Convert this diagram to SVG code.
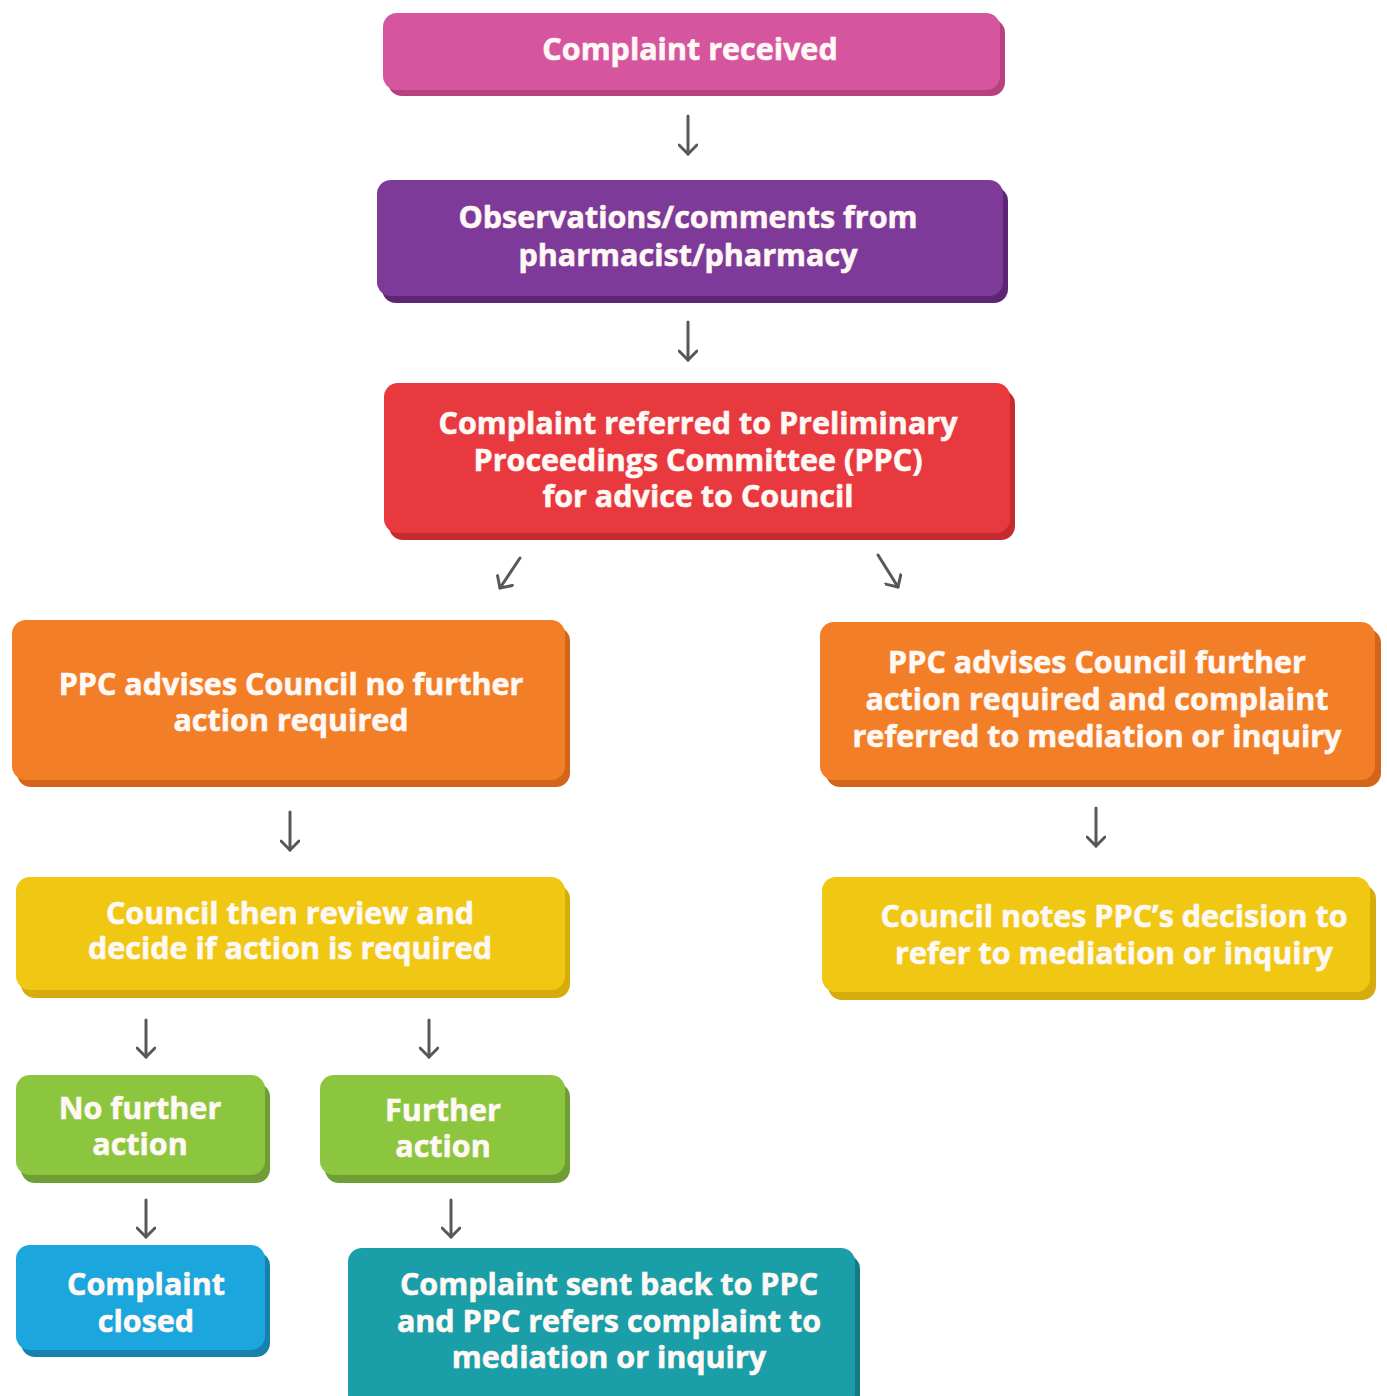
<svg xmlns="http://www.w3.org/2000/svg" width="1387" height="1396" viewBox="0 0 1387 1396">
<defs>
<marker id="ah" viewBox="0 0 20 20" refX="16" refY="10" markerWidth="20" markerHeight="20" markerUnits="userSpaceOnUse" orient="auto">
<path d="M7,1 L16,10 L7,19" fill="none" stroke="#585858" stroke-width="3" stroke-linecap="round" stroke-linejoin="round"/>
</marker>
<style>
.t{font-family:"Open Sans","Noto Sans","Liberation Sans",sans-serif;font-weight:bold;font-size:30.5px;fill:#fff8f4;stroke:#fff8f4;stroke-width:0.6;text-anchor:middle;dominant-baseline:central}
.c line{stroke:#585858;stroke-width:3;stroke-linecap:round;marker-end:url(#ah)}
</style>
</defs>
<rect width="1387" height="1396" fill="#ffffff"/>

<g id="n1">
<rect x="388" y="19" width="617" height="77" rx="14" fill="#b8407f"/>
<rect x="383" y="13" width="617" height="77" rx="14" fill="#d6559f"/>
<text class="t" x="690" y="48">Complaint received</text>
</g>

<g id="n2">
<rect x="382" y="187" width="626" height="116" rx="14" fill="#5c2675"/>
<rect x="377" y="180" width="626" height="116" rx="14" fill="#7e3a99"/>
<text class="t" x="688" y="216">Observations/comments from</text>
<text class="t" x="688" y="254">pharmacist/pharmacy</text>
</g>

<g id="n3">
<rect x="389" y="390" width="626" height="150" rx="14" fill="#c42a30"/>
<rect x="384" y="383" width="626" height="150" rx="14" fill="#e8393f"/>
<text class="t" x="698" y="422">Complaint referred to Preliminary</text>
<text class="t" x="698" y="459">Proceedings Committee (PPC)</text>
<text class="t" x="698" y="495">for advice to Council</text>
</g>

<g id="n4">
<rect x="17" y="627" width="553" height="160" rx="14" fill="#d2651a"/>
<rect x="12" y="620" width="553" height="160" rx="14" fill="#f27f27"/>
<text class="t" x="291" y="683">PPC advises Council no further</text>
<text class="t" x="291" y="719">action required</text>
</g>

<g id="n5">
<rect x="826" y="629" width="555" height="158" rx="14" fill="#d2651a"/>
<rect x="820" y="622" width="555" height="158" rx="14" fill="#f27f27"/>
<text class="t" x="1097" y="661">PPC advises Council further</text>
<text class="t" x="1097" y="698">action required and complaint</text>
<text class="t" x="1097" y="735">referred to mediation or inquiry</text>
</g>

<g id="n6">
<rect x="21" y="885" width="549" height="113" rx="14" fill="#d6ab0c"/>
<rect x="16" y="877" width="549" height="113" rx="14" fill="#f0c814"/>
<text class="t" x="290" y="912">Council then review and</text>
<text class="t" x="290" y="947">decide if action is required</text>
</g>

<g id="n7">
<rect x="828" y="885" width="548" height="115" rx="14" fill="#d6ab0c"/>
<rect x="822" y="877" width="548" height="115" rx="14" fill="#f0c814"/>
<text class="t" x="1114" y="915">Council notes PPC’s decision to</text>
<text class="t" x="1114" y="952">refer to mediation or inquiry</text>
</g>

<g id="n8">
<rect x="21" y="1083" width="249" height="100" rx="14" fill="#6e9e34"/>
<rect x="16" y="1075" width="249" height="100" rx="14" fill="#8cc63f"/>
<text class="t" x="140" y="1107">No further</text>
<text class="t" x="140" y="1143">action</text>
</g>

<g id="n9">
<rect x="325" y="1083" width="245" height="100" rx="14" fill="#6e9e34"/>
<rect x="320" y="1075" width="245" height="100" rx="14" fill="#8cc63f"/>
<text class="t" x="443" y="1109">Further</text>
<text class="t" x="443" y="1145">action</text>
</g>

<g id="n10">
<rect x="21" y="1252" width="249" height="105" rx="14" fill="#1681ad"/>
<rect x="16" y="1245" width="249" height="105" rx="14" fill="#1ba6dd"/>
<text class="t" x="146" y="1283">Complaint</text>
<text class="t" x="146" y="1320">closed</text>
</g>

<g id="n11">
<rect x="353" y="1255" width="507" height="160" rx="14" fill="#137b84"/>
<rect x="348" y="1248" width="507" height="160" rx="14" fill="#1a9ea8"/>
<text class="t" x="609" y="1283">Complaint sent back to PPC</text>
<text class="t" x="609" y="1320">and PPC refers complaint to</text>
<text class="t" x="609" y="1356">mediation or inquiry</text>
</g>

<g id="connectors" class="c">
<line x1="688" y1="116" x2="688" y2="154"/>
<line x1="688" y1="322" x2="688" y2="360"/>
<line x1="520" y1="558" x2="500" y2="588"/>
<line x1="878" y1="555" x2="898" y2="587"/>
<line x1="290" y1="812" x2="290" y2="850"/>
<line x1="1096" y1="808" x2="1096" y2="846"/>
<line x1="146" y1="1020" x2="146" y2="1057"/>
<line x1="429" y1="1020" x2="429" y2="1057"/>
<line x1="146" y1="1200" x2="146" y2="1237"/>
<line x1="451" y1="1200" x2="451" y2="1237"/>
</g>
</svg>
